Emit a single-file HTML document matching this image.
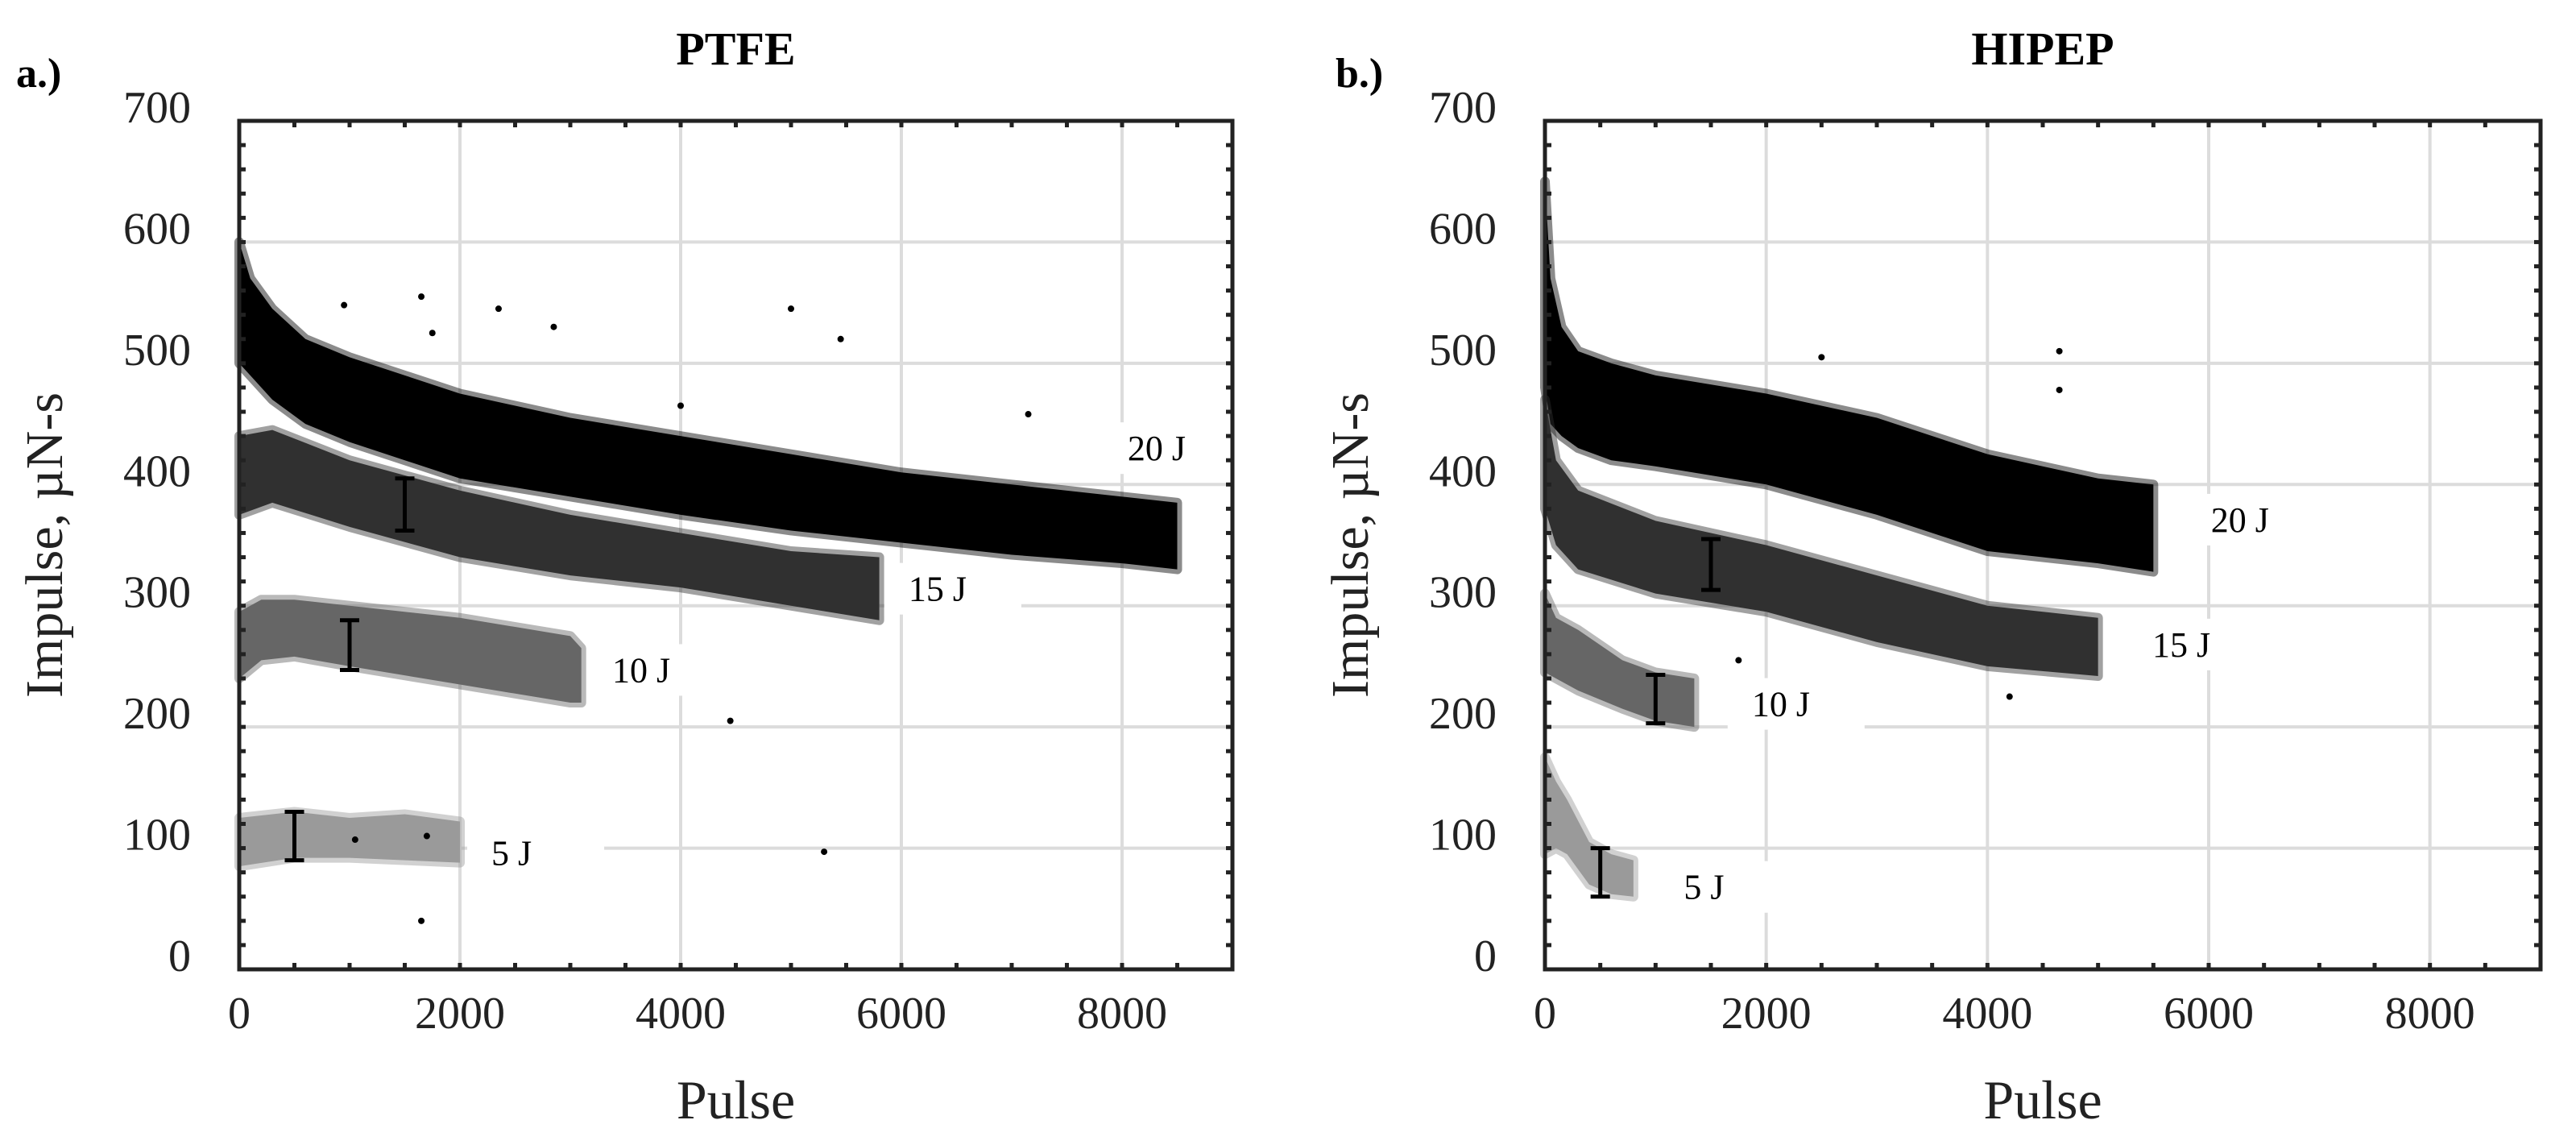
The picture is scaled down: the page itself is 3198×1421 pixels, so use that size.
<!DOCTYPE html>
<html><head><meta charset="utf-8">
<style>
html,body{margin:0;padding:0;background:#fff;}
svg{display:block;font-family:"Liberation Serif",serif;}
</style></head>
<body>
<svg id="fig" width="3198" height="1421" viewBox="0 0 3198 1421" xmlns="http://www.w3.org/2000/svg"></svg>
<script>
// ---- data ----
const xTicks = [0, 2000, 4000, 6000, 8000];
const yTicks = [0, 100, 200, 300, 400, 500, 600, 700];
const energies = ["20 J", "15 J", "10 J", "5 J"];
const seriesColors = ["#000000", "#303030", "#666666", "#9a9a9a"];

// Panel a: PTFE
const aX20 = [0, 100, 300, 600, 1000, 1500, 2000, 3000, 4000, 5000, 6000, 7000, 8000, 8500];
const aHi20 = [600, 570, 545, 520, 505, 490, 475, 455, 440, 425, 410, 400, 390, 385];
const aLo20 = [500, 490, 470, 450, 435, 420, 405, 390, 375, 362, 352, 342, 335, 330];
const aX15 = [0, 300, 1000, 2000, 3000, 4000, 5000, 5800];
const aHi15 = [440, 445, 420, 395, 375, 360, 345, 340];
const aLo15 = [375, 385, 365, 340, 325, 315, 300, 288];
const aX10 = [0, 200, 500, 1000, 2000, 3000, 3100];
const aHi10 = [295, 305, 305, 300, 290, 275, 265];
const aLo10 = [240, 255, 258, 250, 235, 220, 220];
const aX5 = [0, 500, 1000, 1500, 2000];
const aHi5 = [125, 130, 125, 128, 122];
const aLo5 = [85, 92, 92, 90, 88];
const aErrX = [1500, 1000, 500];
const aErrLo = [362, 247, 90];
const aErrHi = [405, 288, 130];
const aLabelX = [8050, 6065, 3380, 2285];
const aLabelY = [430, 314, 247, 96];
const aOutX = [1650, 950, 2350, 5000, 5450, 7150, 4000, 4450, 5300, 1700, 1050, 1650, 1750, 2850];
const aOutY = [555, 548, 545, 545, 520, 458, 465, 205, 97, 110, 107, 40, 525, 530];

// Panel b: HIPEP
const bX20 = [0, 50, 150, 300, 600, 1000, 2000, 3000, 4000, 4500, 5000, 5500];
const bHi20 = [650, 570, 530, 510, 500, 490, 475, 455, 425, 415, 405, 400];
const bLo20 = [480, 450, 440, 430, 420, 415, 400, 375, 345, 340, 335, 328];
const bX15 = [0, 100, 300, 1000, 2000, 3000, 4000, 5000];
const bHi15 = [470, 420, 395, 370, 350, 325, 300, 290];
const bLo15 = [380, 350, 330, 310, 295, 270, 250, 242];
const bX10 = [0, 100, 300, 700, 1000, 1350];
const bHi10 = [310, 290, 280, 255, 245, 240];
const bLo10 = [245, 240, 230, 215, 205, 200];
const bX5 = [0, 100, 200, 400, 600, 800];
const bHi5 = [175, 155, 140, 105, 95, 90];
const bLo5 = [95, 100, 95, 70, 62, 60];
const bErrX = [1500, 1000, 500];
const bErrLo = [313, 203, 60];
const bErrHi = [355, 243, 100];
const bLabelX = [6020, 5490, 1870, 1255];
const bLabelY = [371, 268, 219, 68];
const bOutX = [4650, 4650, 2500, 1750, 4200];
const bOutY = [510, 478, 505, 255, 225];

// ---- drawing ----
const NS = "http://www.w3.org/2000/svg";
const svg = document.getElementById("fig");
function mk(tag, attrs, parent) {
  const e = document.createElementNS(NS, tag);
  for (const k in attrs) e.setAttribute(k, attrs[k]);
  (parent || svg).appendChild(e);
  return e;
}

const panels = [
  {id: "a", title: "PTFE", tag: "a.)", tagX: 65, left: 297, right: 1530,
   series: [[aX20, aHi20, aLo20], [aX15, aHi15, aLo15], [aX10, aHi10, aLo10], [aX5, aHi5, aLo5]],
   errX: aErrX, errLo: aErrLo, errHi: aErrHi, labX: aLabelX, labY: aLabelY, outX: aOutX, outY: aOutY},
  {id: "b", title: "HIPEP", tag: "b.)", tagX: 1703, left: 1918, right: 3154,
   series: [[bX20, bHi20, bLo20], [bX15, bHi15, bLo15], [bX10, bHi10, bLo10], [bX5, bHi5, bLo5]],
   errX: bErrX, errLo: bErrLo, errHi: bErrHi, labX: bLabelX, labY: bLabelY, outX: bOutX, outY: bOutY}
];
const TOP = 150, BOTTOM = 1203, XMAX = 9000, YMAX = 700;

panels.forEach(p => {
  const g = mk("g", {});
  
  
  const sx = v => p.left + (v / XMAX) * (p.right - p.left);
  const sy = v => BOTTOM - (v / YMAX) * (BOTTOM - TOP);

  const grid = mk("g", {stroke: "#dcdcdc", "stroke-width": 4}, g);
  
  
  xTicks.forEach(t => { if (t > 0) mk("line", {x1: sx(t), x2: sx(t), y1: TOP, y2: BOTTOM}, grid); });
  yTicks.forEach(t => { if (t > 0 && t < YMAX) mk("line", {x1: p.left, x2: p.right, y1: sy(t), y2: sy(t)}, grid); });

  p.series.forEach((s, i) => {
    const [xs, hi, lo] = s;
    let pts = [];
    xs.forEach((x, j) => pts.push(sx(x) + "," + sy(hi[j])));
    for (let j = xs.length - 1; j >= 0; j--) pts.push(sx(xs[j]) + "," + sy(lo[j]));
    const fr = mk("polygon", {points: pts.join(" "), fill: seriesColors[i], stroke: seriesColors[i], "stroke-width": 12, "stroke-linejoin": "round", opacity: 0.45}, g);
    
    
    const poly = mk("polygon", {points: pts.join(" "), fill: seriesColors[i]}, g);
    
    
  });

  p.outX.forEach((x, j) => {
    const c = mk("circle", {cx: sx(x), cy: sy(p.outY[j]), r: 4, fill: "#000"}, g);
    
    
  });

  p.errX.forEach((x, j) => {
    const eg = mk("g", {stroke: "#000", "stroke-width": 5}, g);
    
    
    const X = sx(x), y1 = sy(p.errHi[j]), y2 = sy(p.errLo[j]);
    mk("line", {x1: X, x2: X, y1: y1, y2: y2}, eg);
    mk("line", {x1: X - 12, x2: X + 12, y1: y1, y2: y1}, eg);
    mk("line", {x1: X - 12, x2: X + 12, y1: y2, y2: y2}, eg);
  });

  p.labX.forEach((x, j) => {
    const lx = sx(x), ly = sy(p.labY[j]);
    const bg = mk("rect", {x: lx - 30, y: ly - 32, width: 170, height: 64, fill: "#fff"}, g);
    
    
    const t = mk("text", {x: lx, y: ly + 15, "font-size": 44, fill: "#000"}, g);
    t.textContent = energies[j];
    
    
  });

  const fr = mk("rect", {x: p.left, y: TOP, width: p.right - p.left, height: BOTTOM - TOP, fill: "none", stroke: "#222", "stroke-width": 5}, g);
  
  

  const tk = mk("g", {stroke: "#222", "stroke-width": 5}, g);
  
  
  for (let v = 500; v < XMAX; v += 500) {
    mk("line", {x1: sx(v), x2: sx(v), y1: BOTTOM, y2: BOTTOM - 8}, tk);
    mk("line", {x1: sx(v), x2: sx(v), y1: TOP, y2: TOP + 8}, tk);
  }
  for (let v = 20; v < YMAX; v += 20) {
    mk("line", {x1: p.left, x2: p.left + 8, y1: sy(v), y2: sy(v)}, tk);
    mk("line", {x1: p.right, x2: p.right - 8, y1: sy(v), y2: sy(v)}, tk);
  }

  yTicks.forEach(t => {
    const e = mk("text", {x: p.left - 60, y: sy(t) + 2, "font-size": 56, "text-anchor": "end", fill: "#222"}, g);
    e.textContent = t;
    
    
  });
  xTicks.forEach(t => {
    const e = mk("text", {x: sx(t), y: 1276, "font-size": 56, "text-anchor": "middle", fill: "#222"}, g);
    e.textContent = t;
    
    
  });

  const xt = mk("text", {x: (p.left + p.right) / 2, y: 1388, "font-size": 68, "text-anchor": "middle", fill: "#222"}, g);
  xt.textContent = "Pulse";
  
  
  const yx = p.left - 220, yy = (TOP + BOTTOM) / 2;
  const yt = mk("text", {x: yx, y: yy, "font-size": 66, "text-anchor": "middle", fill: "#222", transform: "rotate(-90 " + yx + " " + yy + ")"}, g);
  yt.textContent = "Impulse, \u00B5N-s";
  
  

  const ti = mk("text", {x: (p.left + p.right) / 2, y: 80, "font-size": 58, "font-weight": "bold", "text-anchor": "middle", fill: "#000"}, g);
  ti.textContent = p.title;
  
  
  const tg = mk("text", {x: p.tagX - 45, y: 108, "font-size": 52, "font-weight": "bold", fill: "#000"}, g);
  tg.textContent = p.tag;
  
  
});
</script>
</body></html>
